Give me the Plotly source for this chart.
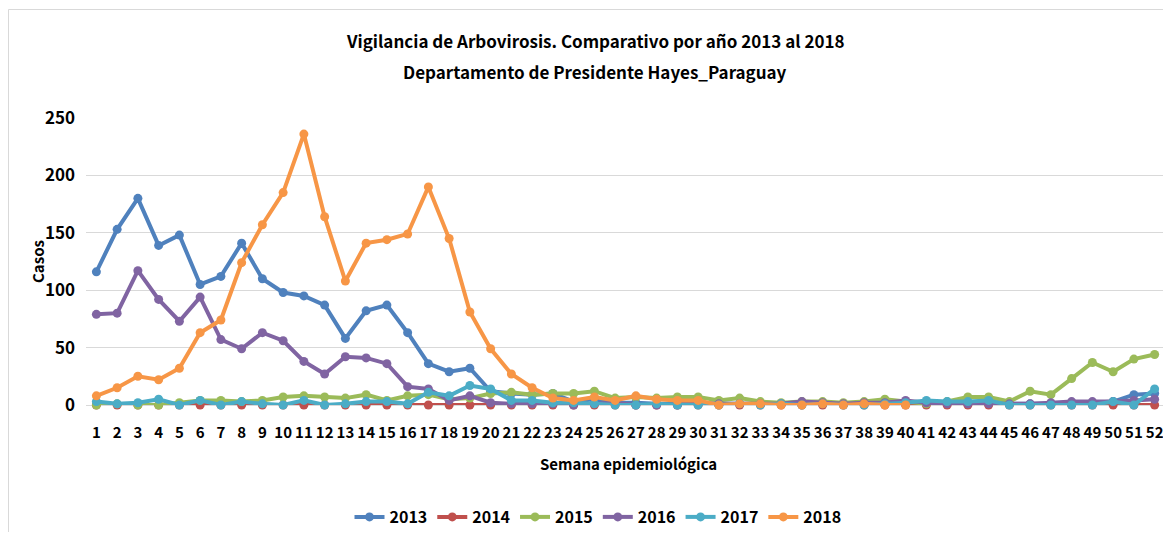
import plotly.graph_objects as go

weeks = [str(i) for i in range(1, 53)]

y2013 = [116, 153, 180, 139, 148, 105, 112, 141, 110, 98, 95, 87, 58, 82, 87, 63, 36, 29, 32, 12,
         10, 9, 10, 3, 5, 2, 2, 1, 1, 2, 1, 1, 1, 1, 2, 2, 1, 2, 1, 2,
         1, 2, 1, 2, 1, 1, 1, 2, 2, 3, 9, 10]
y2014 = [0, 0, 0, 0, 0, 0, 0, 0, 0, 0, 0, 0, 0, 0, 0, 0, 0, 0, 0, 0,
         0, 0, 0, 0, 0, 0, 0, 0, 0, 0, 0, 0, 0, 0, 0, 0, 0, 0, 0, 0,
         0, 0, 0, 0, 0, 0, 0, 0, 0, 0, 0, 0]
y2015 = [0, 1, 0, 0, 2, 4, 4, 3, 4, 7, 8, 7, 6, 9, 4, 8, 9, 5, 6, 10,
         11, 9, 10, 10, 12, 6, 7, 6, 7, 7, 4, 6, 3, 2, 3, 3, 2, 3, 5, 3,
         1, 3, 7, 7, 3, 12, 9, 23, 37, 29, 40, 44]
y2016 = [79, 80, 117, 92, 73, 94, 57, 49, 63, 56, 38, 27, 42, 41, 36, 16, 14, 4, 8, 2,
         1, 1, 1, 0, 1, 2, 0, 0, 0, 1, 1, 1, 1, 1, 3, 2, 1, 2, 2, 4,
         2, 1, 1, 1, 1, 1, 2, 3, 3, 3, 4, 5]
y2017 = [3, 1, 2, 5, 0, 4, 0, 3, 1, 0, 4, 0, 1, 3, 3, 1, 11, 8, 17, 14,
         4, 4, 2, 2, 1, 0, 0, 1, 0, 0, 0, 1, 0, 1, 0, 1, 0, 0, 1, 2,
         4, 3, 3, 4, 0, 0, 0, 0, 0, 3, 0, 14]
y2018 = [8, 15, 25, 22, 32, 63, 74, 124, 157, 185, 236, 164, 108, 141, 144, 149, 190, 145, 81, 49,
         27, 15, 6, 4, 7, 4, 8, 5, 4, 4, 0, 1, 1, 0, 0, 1, 0, 1, 0, 0,
         None, None, None, None, None, None, None, None, None, None, None, None]

series_names = ["2013", "2014", "2015", "2016", "2017", "2018"]
series_values = [y2013, y2014, y2015, y2016, y2017, y2018]
colors = ["#4F81BD", "#C0504D", "#9BBB59", "#8064A2", "#4BACC6", "#F79646"]

FONT = "Noto Sans CJK SC, Lato, sans-serif"

fig = go.Figure()
for name, vals, col in zip(series_names, series_values, colors):
    fig.add_trace(go.Scatter(
        x=weeks, y=vals, name=name, mode="lines+markers",
        line=dict(color=col, width=4),
        marker=dict(color=col, size=9),
        cliponaxis=False,
    ))

# page has an 8px body margin; figure coordinates are screen - 8
OFF = 8
W, H = 1157, 524
L, R, T, B = 78, 0, 110, 127
ph = H - T - B
pw = W - L - R

def py(sy):
    return (H - B - (sy - OFF)) / ph

def pxx(sx):
    return ((sx - OFF) - L) / pw

bold = lambda s: dict(size=s, family=FONT, color="black", weight="bold")

fig.update_layout(
    width=W, height=H,
    margin=dict(l=L, r=R, t=T, b=B, autoexpand=False),
    paper_bgcolor="white", plot_bgcolor="white",
    font=dict(family=FONT, color="black"),
    showlegend=True,
    legend=dict(
        orientation="h", xref="container", yref="container",
        x=(598 - OFF) / W, y=1 - (517 - OFF) / H, xanchor="center", yanchor="middle",
        font=bold(16),
        itemwidth=30,
    ),
    xaxis=dict(
        type="category", range=[-0.5, 51.5], automargin=False,
        showgrid=False, zeroline=False, showline=False, ticks="",
        tickangle=0,
        tickfont=bold(15),
        ticklabelstandoff=17,
    ),
    yaxis=dict(
        range=[0, 250], tickvals=[0, 50, 100, 150, 200, 250], automargin=False,
        showgrid=True, gridcolor="#D9D9D9", gridwidth=1,
        zeroline=True, zerolinecolor="#D9D9D9", zerolinewidth=1,
        showline=False, ticks="",
        tickfont=bold(17),
        ticklabelstandoff=10,
    ),
    annotations=[
        dict(text="Vigilancia de Arbovirosis. Comparativo por año 2013 al 2018",
             xref="paper", yref="paper", x=pxx(595), y=py(40), showarrow=False,
             xanchor="center", yanchor="middle", font=bold(17)),
        dict(text="Departamento de Presidente Hayes_Paraguay",
             xref="paper", yref="paper", x=pxx(595), y=py(72), showarrow=False,
             xanchor="center", yanchor="middle", font=bold(17)),
        dict(text="Semana epidemiológica",
             xref="paper", yref="paper", x=pxx(628), y=py(463), showarrow=False,
             xanchor="center", yanchor="middle", font=bold(15)),
        dict(text="Casos", textangle=-90,
             xref="paper", yref="paper", x=pxx(37), y=py(262), showarrow=False,
             xanchor="center", yanchor="middle", font=bold(15)),
    ],
    shapes=[
        dict(type="rect", xref="paper", yref="paper",
             x0=pxx(OFF + 0.5), x1=pxx(1190), y0=py(560), y1=py(9.5),
             line=dict(color="#D9D9D9", width=1), fillcolor="rgba(0,0,0,0)", layer="below"),
    ],
)

fig.write_html("out.html")
